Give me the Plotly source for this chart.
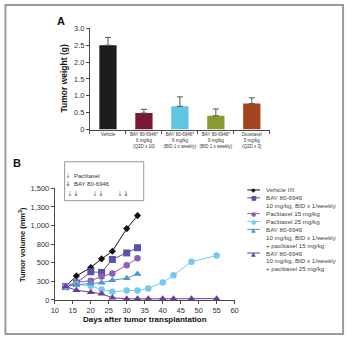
import plotly.graph_objects as go

# ---------------- DATA ----------------
# Panel A: tumor weight (g)
a_categories = [
    "Vehicle",
    "BAY 80-6946*<br>6 mg/kg<br>(Q2D x 10)",
    "BAY 80-6946*<br>6 mg/kg<br>(BID 1 x weekly)",
    "BAY 80-6946*<br>9 mg/kg<br>(BID 1 x weekly)",
    "Docetaxel<br>5 mg/kg<br>(Q2D x 3)",
]
a_weights = [2.50, 0.49, 0.69, 0.41, 0.77]
a_errors = [0.23, 0.11, 0.28, 0.20, 0.17]
a_colors = ["#1c1c1e", "#7a1733", "#5ec6e0", "#8b9932", "#a3441e"]
a_yticks = [0, 0.5, 1.0, 1.5, 2.0, 2.5, 3.0]
a_yticktext = ["0", "0.5", "1.0", "1.5", "2.0", "2.5", "3.0"]

# Panel B: tumor volume (mm3)
days_short = [13, 16, 20, 23, 26, 30, 33]
days_long = [13, 16, 20, 23, 26, 30, 33, 36, 40, 43, 48, 55]
vehicle = [180, 323, 436, 553, 654, 959, 1133]
bay10 = [180, 225, 379, 370, 545, 632, 702]
pac15 = [180, 240, 258, 314, 357, 467, 562]
pac25 = [180, 210, 190, 140, 109, 127, 127, 155, 235, 331, 514, 598]
bay_pac15 = [180, 205, 222, 231, 266, 292, 349]
bay_pac25 = [180, 131, 105, 83, 30, 15, 15, 15, 15, 15, 15, 18]

b_series = [
    ("Vehicle I/II", days_short, vehicle, "#111111", "diamond", 5.5, "◆"),
    ("BAY 80-6946<br>10 mg/kg, BID x 1/weekly", days_short, bay10, "#5553a8", "square", 7, "■"),
    ("Paclitaxel 15 mg/kg", days_short, pac15, "#8f5fb0", "circle", 6.5, "●"),
    ("Paclitaxel 25 mg/kg", days_long, pac25, "#72cbec", "circle", 6.5, "●"),
    ("BAY 80-6946<br>10 mg/kg, BID x 1/weekly<br>+ paclitaxel 15 mg/kg", days_short, bay_pac15, "#4f93d3", "triangle-up", 7, "▲"),
    ("BAY 80-6946<br>10 mg/kg, BID x 1/weekly<br>+ paclitaxel 25 mg/kg", days_long, bay_pac25, "#6b3d99", "triangle-up", 7, "▲"),
]
b_yticks = [0, 250, 500, 750, 1000, 1250, 1500]
b_yticktext = ["0", "300", "500", "800", "1,000", "1,300", "1,500"]
treatment_days = [15, 22, 29]

# ---------------- LAYOUT HELPERS ----------------
W, H = 350, 341
def px(x):
    return x / W
def py(y):
    return 1 - y / H

FONT = "Liberation Sans, Arial, sans-serif"
AXC = "#4a4a4a"
TXT = "#333333"

fig = go.Figure()

# Panel A bars
fig.add_trace(go.Bar(
    x=a_categories, y=a_weights,
    marker=dict(color=a_colors, line=dict(width=0)),
    error_y=dict(type="data", array=a_errors, arrayminus=[0] * len(a_errors),
                 symmetric=False, color="#555555", thickness=1, width=3),
    xaxis="x", yaxis="y", showlegend=False,
))

# Panel B lines
for name, xs, ys, col, sym, size, glyph in b_series:
    fig.add_trace(go.Scatter(
        x=xs, y=ys, name=name, mode="lines+markers",
        line=dict(color=col, width=1),
        marker=dict(symbol=sym, size=size, color=col),
        xaxis="x2", yaxis="y2", showlegend=False, cliponaxis=False,
    ))

axis_common = dict(showline=True, linecolor=AXC, linewidth=1, ticks="outside",
                   ticklen=3, tickcolor=AXC, showgrid=False, zeroline=False)

fig.update_layout(
    width=W, height=H, margin=dict(l=0, r=0, t=0, b=0),
    paper_bgcolor="white", plot_bgcolor="white",
    font=dict(family=FONT, color=TXT),
    bargap=0.52,
    xaxis=dict(domain=[px(88), px(272)], anchor="y", type="category",
               tickson="boundaries", tickangle=0, tickfont=dict(size=4.5, color=TXT),
               **axis_common),
    yaxis=dict(domain=[py(129), py(25)], anchor="x", range=[0, 3],
               tickvals=a_yticks, ticktext=a_yticktext,
               tickfont=dict(size=7.5, color=TXT), **axis_common),
    xaxis2=dict(domain=[px(52), px(236)], anchor="y2", range=[10, 60],
                dtick=5, tick0=10, tickangle=0, tickfont=dict(size=7.5, color=TXT), **axis_common),
    yaxis2=dict(domain=[py(304), py(189.3)], anchor="x2", range=[0, 1500],
                tickvals=b_yticks, ticktext=b_yticktext,
                tickfont=dict(size=7.5, color=TXT), **axis_common),
)

ann = []
shapes = []

def add_text(text, x, y, size, color=TXT, xref="paper", xanchor="center", angle=0, family=None):
    f = dict(size=size, color=color)
    if family:
        f["family"] = family
    ann.append(dict(text=text, x=x, y=y, xref=xref, yref="paper", xanchor=xanchor,
                    yanchor="middle", textangle=angle, showarrow=False, font=f))

# Panel labels and titles
add_text("<b>A</b>", px(58), py(17), 11, "#111")
add_text("<b>B</b>", px(13), py(163), 11, "#111")
add_text("<b>Tumor weight (g)</b>", px(61), py(77), 8.5, "#111", angle=-90)
add_text("<b>Tumor volume (mm<sup>3</sup>)</b>", px(19), py(247), 7.5, "#111", angle=-90)
add_text("<b>Days after tumor transplantation</b>", px(144), py(324), 8, "#111")

# Treatment box
PAC_C = "#b070b0"
BAY_C = "#6b3d99"
shapes.append(dict(type="rect", xref="paper", yref="paper", x0=px(62), x1=px(143),
                   y0=py(202), y1=py(162), line=dict(color="#9a9a9a", width=1),
                   fillcolor="white", layer="above"))
add_text("↓", px(66), py(177), 7, PAC_C, family="DejaVu Sans")
add_text("Paclitaxel", px(70), py(177), 6, xanchor="left")
add_text("↓", px(66), py(185), 7, BAY_C, family="DejaVu Sans")
add_text("BAY 80-6946", px(70), py(185), 6, xanchor="left")
for d in treatment_days:
    add_text(f"<span style='color:{PAC_C}'>↓</span><span style='color:{BAY_C}'>↓</span>",
             d, py(195), 7, BAY_C, xref="x2", family="DejaVu Sans")

# Manual legend for panel B
row_h = 8.1
row = 0
for name, xs, ys, col, sym, size, glyph in b_series:
    yc = 191 + row * row_h
    shapes.append(dict(type="line", xref="paper", yref="paper", x0=px(249), x1=px(262),
                       y0=py(yc), y1=py(yc), line=dict(color=col, width=1)))
    add_text(glyph, px(255.5), py(yc), 6, col, family="DejaVu Sans")
    for line in name.split("<br>"):
        add_text(line, px(266), py(191 + row * row_h), 6.2, "#444", xanchor="left")
        row += 1

# Outer frame
shapes.append(dict(type="rect", xref="paper", yref="paper", x0=px(1.5), x1=px(347),
                   y0=py(339), y1=py(1), line=dict(color="#9b9b9b", width=2), layer="above"))

fig.update_layout(annotations=ann, shapes=shapes)
fig.write_html("out.html")
